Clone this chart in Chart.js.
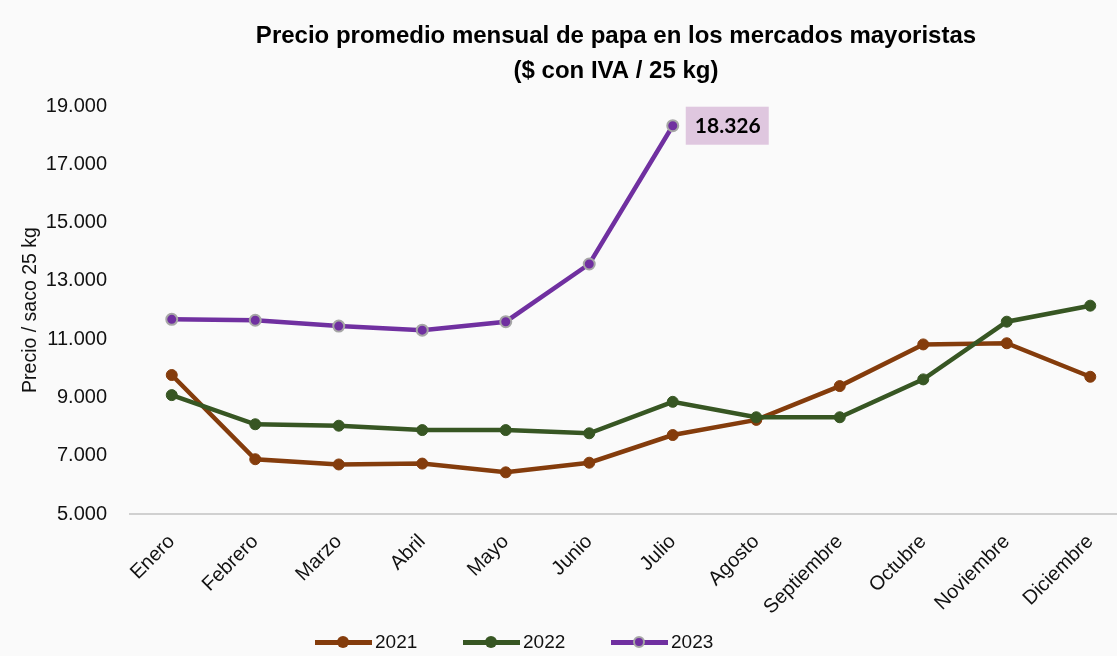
<!DOCTYPE html>
<html lang="es">
<head>
  <meta charset="UTF-8">
  <title>Precio promedio mensual de papa</title>
  <script src="https://cdn.jsdelivr.net/npm/chart.js"></script>
  <style>
    body {
      margin: 0;
      background-color: #fafafa;
      overflow: hidden;
      font-family: "Liberation Sans", Arial, sans-serif;
    }
    .wrap {
      position: relative;
      width: 1117px;
      height: 656px;
      overflow: hidden;
    }
    .legend {
      position: absolute;
      left: 315px;
      top: 631px;
      display: flex;
    }
    .legend-item {
      width: 148px;
      display: flex;
      align-items: center;
      font-size: 19px;
      color: #111;
    }
    .swatch {
      position: relative;
      width: 57px;
      height: 5px;
      margin-right: 3px;
    }
    .swatch span {
      position: absolute;
      left: 22px;
      top: -4px;
      width: 12px;
      height: 12px;
      border-radius: 50%;
      box-sizing: border-box;
    }
  </style>
</head>
<body>

  <div class="wrap">
    <canvas id="papaChart" width="1232" height="656"></canvas>
    <div class="legend" id="legend"></div>
  </div>

  <script>
    const months = ['Enero', 'Febrero', 'Marzo', 'Abril', 'Mayo', 'Junio', 'Julio',
                    'Agosto', 'Septiembre', 'Octubre', 'Noviembre', 'Diciembre'];
    const years = ['2021', '2022', '2023'];
    const price2021 = [9770, 6880, 6700, 6730, 6430, 6760, 7710, 8230, 9390, 10820, 10860, 9710];
    const price2022 = [9080, 8080, 8030, 7880, 7880, 7770, 8850, 8320, 8320, 9620, 11600, 12150];
    const price2023 = [11680, 11650, 11450, 11310, 11600, 13580, 18326, null, null, null, null, null];
    const yTicks = [5000, 7000, 9000, 11000, 13000, 15000, 17000, 19000];

    const colors = ['#843c0c', '#375623', '#7030a0'];
    const fontFam = '"Liberation Sans", Arial, sans-serif';

    function fmt(v) {
      return String(v).replace(/\B(?=(\d{3})+(?!\d))/g, '.');
    }

    // etiqueta del último dato 2023
    const lastLabel = {
      id: 'lastLabel',
      afterDatasetsDraw(chart) {
        const meta = chart.getDatasetMeta(2);
        const idx = 6;
        const pt = meta.data[idx];
        const ctx = chart.ctx;
        ctx.save();
        ctx.fillStyle = '#dfc7df';
        ctx.fillRect(pt.x + 13, pt.y - 19, 83, 38);
        ctx.fillStyle = '#000';
        ctx.font = 'bold 21px Lato, "Open Sans", sans-serif';
        ctx.textAlign = 'center';
        ctx.textBaseline = 'middle';
        ctx.fillText(fmt(price2023[idx]), pt.x + 13 + 42, pt.y + 1);
        ctx.restore();
      }
    };

    const ctx = document.getElementById('papaChart').getContext('2d');

    new Chart(ctx, {
      type: 'line',
      data: {
        labels: months,
        datasets: [
          {
            label: years[0],
            data: price2021,
            borderColor: colors[0],
            backgroundColor: colors[0],
            borderWidth: 4.5,
            pointRadius: 5.5,
            pointBorderWidth: 1,
            pointBorderColor: colors[0],
            order: 3
          },
          {
            label: years[1],
            data: price2022,
            borderColor: colors[1],
            backgroundColor: colors[1],
            borderWidth: 4.5,
            pointRadius: 5.5,
            pointBorderWidth: 1,
            pointBorderColor: colors[1],
            order: 2
          },
          {
            label: years[2],
            data: price2023,
            borderColor: colors[2],
            backgroundColor: colors[2],
            borderWidth: 4.5,
            pointRadius: 5.5,
            pointBorderWidth: 2,
            pointBorderColor: '#a6a6a6',
            order: 1
          }
        ]
      },
      options: {
        responsive: false,
        animation: false,
        layout: {
          padding: 0
        },
        plugins: {
          legend: { display: false },
          tooltip: { enabled: false },
          title: {
            display: true,
            text: ['Precio promedio mensual de papa en los mercados mayoristas', '($ con IVA / 25 kg)'],
            color: '#000',
            font: { family: fontFam, size: 24, weight: 'bold', lineHeight: 1.46 },
            padding: { top: 19, bottom: 17 }
          }
        },
        scales: {
          x: {
            offset: true,
            grid: { display: false, drawTicks: false },
            border: { display: true, color: '#d0d0d0', width: 2 },
            ticks: {
              color: '#111',
              font: { family: fontFam, size: 20 },
              maxRotation: 45,
              minRotation: 45,
              padding: 16
            },
            afterFit: (scale) => { scale.height = 142; }
          },
          y: {
            min: 5000,
            max: 19000,
            afterBuildTicks: (scale) => { scale.ticks = yTicks.map(v => ({ value: v })); },
            grid: { display: false, drawTicks: false },
            border: { display: false },
            ticks: {
              color: '#111',
              font: { family: fontFam, size: 20 },
              padding: 23,
              callback: (v) => fmt(v)
            },
            title: {
              display: true,
              text: 'Precio / saco 25 kg',
              color: '#111',
              font: { family: fontFam, size: 19.5 },
              padding: { top: 19, bottom: 0 }
            },
            afterFit: (scale) => { scale.width = 130; }
          },
          // eje vacío a la derecha: el área de datos sigue más allá del borde, como en el original
          yRight: {
            position: 'right',
            display: true,
            grid: { display: false, drawTicks: false },
            border: { display: false },
            ticks: { display: false },
            afterFit: (scale) => { scale.width = 100; }
          }
        }
      },
      plugins: [lastLabel]
    });

    // leyenda
    const legend = document.getElementById('legend');
    years.forEach((y, i) => {
      const item = document.createElement('div');
      item.className = 'legend-item';
      const sw = document.createElement('div');
      sw.className = 'swatch';
      sw.style.background = colors[i];
      const dot = document.createElement('span');
      dot.style.background = colors[i];
      if (i === 2) dot.style.border = '2px solid #a6a6a6';
      sw.appendChild(dot);
      item.appendChild(sw);
      item.appendChild(document.createTextNode(y));
      legend.appendChild(item);
    });
  </script>

</body>
</html>
